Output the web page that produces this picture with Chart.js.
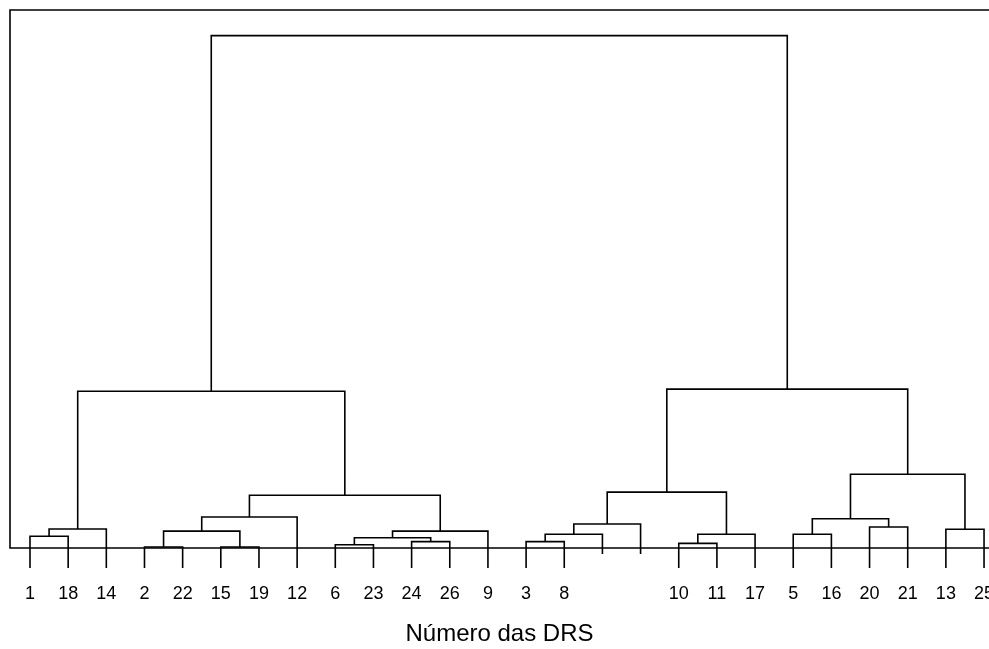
<!DOCTYPE html>
<html>
<head>
<meta charset="utf-8">
<script src="https://cdn.jsdelivr.net/npm/chart.js@4.4.1/dist/chart.umd.min.js"></script>
<style>
    html, body { margin: 0; padding: 0; background: #fff; }
    #wrap { width: 989px; height: 649px; }
</style>
</head>
<body>
<div id="wrap"><canvas id="dendro"></canvas></div>
<script>
// leaf order along the axis (two leaves carry no printed label)
const leafLabels = ["1", "18", "14", "2", "22", "15", "19", "12", "6", "23", "24", "26", "9",
    "3", "8", "", "", "10", "11", "17", "5", "16", "20", "21", "13", "25"];

// merges: ids 0..25 are the leaves, merge k gets id 26 + k
const mergeLeft = [3, 5, 8, 10, 13, 17, 0, 28, 26, 33, 30, 31, 20, 22, 24, 32, 36, 34, 38, 43, 42, 44, 41, 46, 48];
const mergeRight = [4, 6, 9, 11, 14, 18, 1, 29, 27, 12, 15, 19, 21, 23, 25, 2, 16, 7, 39, 35, 37, 40, 45, 47, 49];
const mergeHeight = [0.2, 0.2, 0.65, 1.25, 1.25, 0.9, 2.3, 2.0, 3.3, 3.3, 2.7, 2.7, 2.7, 4.1, 3.65, 3.7, 4.7,
    6.05, 5.7, 10.3, 10.9, 14.4, 30.6, 31.0, 100];

const axisTitle = "Número das DRS";

document.addEventListener("DOMContentLoaded", function () {
    // leaf stems hang below the baseline; the unlabelled ones only a little
    const nodeX = leafLabels.map((_, i) => i);
    const nodeY = leafLabels.map(l => l === "" ? -1.15 : -3.9);

    const points = [];
    mergeLeft.forEach((l, k) => {
        const r = mergeRight[k];
        const h = mergeHeight[k];
        points.push(
            { x: nodeX[l], y: nodeY[l] },
            { x: nodeX[l], y: h },
            { x: nodeX[r], y: h },
            { x: nodeX[r], y: nodeY[r] },
            { x: nodeX[r], y: null }
        );
        nodeX.push((nodeX[l] + nodeX[r]) / 2);
        nodeY.push(h);
    });

    const framePlugin = {
        id: "frame",
        beforeDatasetsDraw(chart) {
            const { ctx, chartArea, scales } = chart;
            const y0 = scales.y.getPixelForValue(0);
            ctx.save();
            ctx.strokeStyle = "#000";
            ctx.lineWidth = 1.6;
            ctx.beginPath();
            ctx.moveTo(chartArea.right, chartArea.top);
            ctx.lineTo(chartArea.left, chartArea.top);
            ctx.lineTo(chartArea.left, y0);
            ctx.lineTo(chartArea.right, y0);
            ctx.stroke();
            ctx.restore();
        },
    };

    const font = "'Liberation Sans', Arial, sans-serif";

    new Chart(document.getElementById("dendro"), {
        type: "line",
        data: {
            datasets: [{
                data: points,
                borderColor: "#000",
                borderWidth: 1.6,
                pointRadius: 0,
                spanGaps: false,
                fill: false,
                tension: 0,
            }],
        },
        options: {
            responsive: true,
            maintainAspectRatio: false,
            animation: false,
            devicePixelRatio: 1,
            events: [],
            layout: { padding: { left: 10, top: 10, right: 0, bottom: 0 } },
            plugins: { legend: { display: false }, tooltip: { enabled: false } },
            scales: {
                x: {
                    type: "linear",
                    position: "bottom",
                    min: -0.524,
                    max: 25.13,
                    afterBuildTicks: function (scale) {
                        scale.ticks = leafLabels.map((_, i) => ({ value: i }));
                    },
                    afterFit: function (scale) {
                        scale.height = 81;
                        scale.paddingLeft = 0;
                        scale.paddingRight = 0;
                    },
                    grid: { display: false, drawTicks: false },
                    border: { display: false },
                    ticks: {
                        autoSkip: false,
                        maxRotation: 0,
                        padding: 15,
                        color: "#000",
                        font: { family: font, size: 18 },
                        callback: function (value) {
                            return leafLabels[value];
                        },
                    },
                    title: {
                        display: true,
                        text: axisTitle,
                        color: "#000",
                        font: { family: font, size: 24 },
                        padding: { top: 0, bottom: 0 },
                    },
                },
                y: {
                    type: "linear",
                    display: false,
                    min: -3.9,
                    max: 105,
                },
            },
        },
        plugins: [framePlugin],
    });
});
</script>
</body>
</html>
